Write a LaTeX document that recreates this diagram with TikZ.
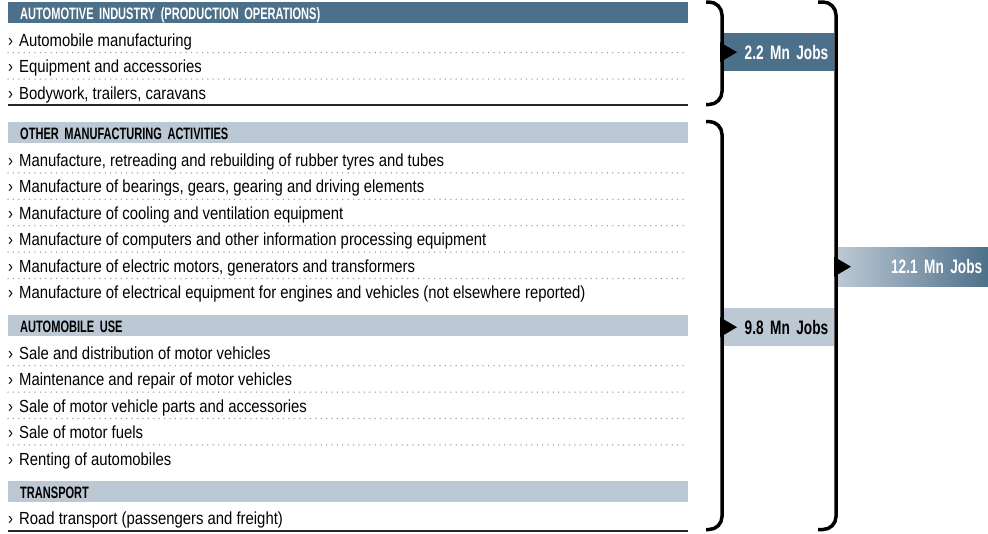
\documentclass[tikz,border=0pt]{standalone}
\usepackage{fontspec}
\newfontfamily\bodyfont[FakeStretch=0.85]{Liberation Sans}
\newfontfamily\headfont[FakeStretch=0.67]{Liberation Sans}
\newfontfamily\jobfont[FakeStretch=0.70]{Liberation Sans}
\newcommand\headsize{\headfont\bfseries\fontsize{16.5}{16.5}\selectfont\spaceskip 3.2pt\relax}
\newcommand\jobsize{\jobfont\bfseries\fontsize{19.5}{19.5}\selectfont\spaceskip 3.8pt\relax}
\usetikzlibrary{calc}

\definecolor{darkband}{HTML}{4D708A}
\definecolor{lightband}{HTML}{BCC8D3}
\definecolor{dotgray}{HTML}{9C9C9C}

\tikzset{
	headbar/.style = {anchor = north west, minimum width = 680pt, minimum height = 21pt,
		text width = 656pt, inner xsep = 12pt, inner ysep = 0pt, align = left,
		text height = 13pt, text depth = 0pt, font = \headsize},
	itemtxt/.style = {anchor = base west, inner sep = 0pt, font = \bodyfont\fontsize{17.5}{17.5}\selectfont},
	dotrule/.style = {dotgray, line width = 1.5pt, line cap = round, dash pattern = on 0pt off 5.4pt},
	solidrule/.style = {black!85, line width = 1.2pt},
	brace/.style = {line width = 3.5pt, rounded corners = 13pt},
	jobs/.style = {anchor = north west, inner xsep = 6pt, inner ysep = 0pt, align = right, font = \jobsize},
}

\begin{document}
\begin{tikzpicture}[x = 1pt, y = -1pt]
	\def\xL{8};
	\def\xR{688};
	\def\dy{26.4};
	
	\useasboundingbox (0,0) rectangle (988,533);
	
	% automotive industry
	\node [headbar, fill = darkband, text = white] (h1) at (\xL,2) {AUTOMOTIVE INDUSTRY (PRODUCTION OPERATIONS)};
	\foreach \t [count = \k] in {Automobile manufacturing, Equipment and accessories, {Bodywork, trailers, caravans}}
		\node [itemtxt] (a\k) at (\xL, {19.9 + \dy*\k}) {›\hskip 6pt\t};
	\foreach \k in {1,2}
		\draw [dotrule] (\xL, {26.2 + \dy*\k}) -- (\xR, {26.2 + \dy*\k});
	\draw [solidrule] (\xL,105) -- (\xR,105);
	
	% other manufacturing
	\node [headbar, fill = lightband] (h2) at (\xL,122) {OTHER MANUFACTURING ACTIVITIES};
	\foreach \t [count = \k] in {{Manufacture, retreading and rebuilding of rubber tyres and tubes},
		{Manufacture of bearings, gears, gearing and driving elements},
		Manufacture of cooling and ventilation equipment,
		Manufacture of computers and other information processing equipment,
		{Manufacture of electric motors, generators and transformers},
		Manufacture of electrical equipment for engines and vehicles (not elsewhere reported)}
		\node [itemtxt] (b\k) at (\xL, {140 + \dy*\k}) {›\hskip 6pt\t};
	\foreach \k in {1,...,5}
		\draw [dotrule] (\xL, {146.5 + \dy*\k}) -- (\xR, {146.5 + \dy*\k});
	
	% automobile use
	\node [headbar, fill = lightband] (h3) at (\xL,315) {AUTOMOBILE USE};
	\foreach \t [count = \k] in {Sale and distribution of motor vehicles, Maintenance and repair of motor vehicles,
		Sale of motor vehicle parts and accessories, Sale of motor fuels, Renting of automobiles}
		\node [itemtxt] (c\k) at (\xL, {333 + \dy*\k}) {›\hskip 6pt\t};
	\foreach \k in {1,...,4}
		\draw [dotrule] (\xL, {339.3 + \dy*\k}) -- (\xR, {339.3 + \dy*\k});
	
	% transport
	\node [headbar, fill = lightband] (h4) at (\xL,481) {TRANSPORT};
	\node [itemtxt] (d1) at (\xL,524.3) {›\hskip 6pt Road transport (passengers and freight)};
	\draw [solidrule] (\xL,531) -- (\xR,531);
	
	% job totals
	\node [jobs, fill = darkband, text = white, text width = 99pt, minimum height = 38pt] (n1) at (723,33) {2.2 Mn Jobs};
	\node [jobs, fill = lightband, text width = 99pt, minimum height = 38pt] (n2) at (723,308) {9.8 Mn Jobs};
	\node [jobs, left color = lightband, right color = darkband, text = white, text width = 138pt, minimum height = 39pt] (n3) at (838,247) {12.1 Mn Jobs};
	
	\begin{scope}[brace]
		\draw (706,2) -- (722,2) -- (722,104.5) -- (706,104.5);
		\draw (706,121.5) -- (722,121.5) -- (722,529.5) -- (706,529.5);
		\draw (818,2) -- (836,2) -- (836,529.5) -- (818,529.5);
	\end{scope}
	
	\fill (n1.west) ++(-3,-10) -- ++(17,10) -- ++(-17,10) -- cycle;
	\fill (n2.west) ++(-3,-10) -- ++(17,10) -- ++(-17,10) -- cycle;
	\fill (n3.west) ++(-4,-10) -- ++(17,10) -- ++(-17,10) -- cycle;
\end{tikzpicture}
\end{document}
